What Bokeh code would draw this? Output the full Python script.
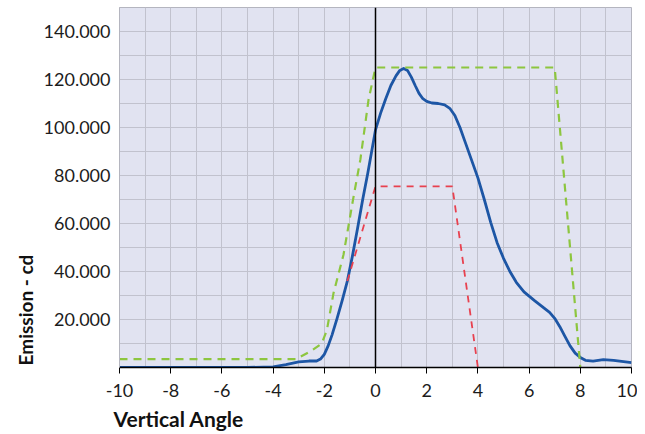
from bokeh.plotting import figure
from bokeh.models import Range1d, FixedTicker, Span, Title
from bokeh.embed import file_html
from bokeh.resources import INLINE

# ---- data ----
blue_x = [-10, -5, -4, -3.5, -3, -2.6, -2.3, -2.15, -2.0, -1.85, -1.7, -1.5, -1.3, -1.1, -0.9, -0.7,
          -0.5, -0.3, -0.15, 0, 0.2, 0.4, 0.6, 0.8, 0.95, 1.1, 1.25, 1.4, 1.55, 1.7, 1.85, 2.0, 2.2,
          2.45, 2.7, 2.9, 3.1, 3.3, 3.5, 3.75, 4.0, 4.25, 4.5, 4.75, 5.0, 5.25, 5.5, 5.8, 6.2, 6.5,
          6.8, 7.0, 7.2, 7.4, 7.6, 7.8, 8.0, 8.2, 8.5, 8.9, 9.3, 10]
blue_y = [0, 0, 300, 1200, 2300, 2700, 2700, 3500, 5500, 9000, 13500, 20500, 28000, 36000, 46500, 58000,
          70000, 81000, 90000, 99000, 106000, 112000, 117500, 121500, 123800, 124600, 123800, 121000,
          117500, 114200, 112000, 110900, 110200, 110000, 109400, 108000, 105000, 100000, 94000, 86500,
          79000, 70000, 60500, 52000, 45500, 40000, 35500, 31500, 28000, 25500, 23000, 20500, 17000,
          13000, 9000, 6000, 4200, 3000, 2700, 3300, 3000, 2000]

green_x = [-10, -3.1, -2.5, -2.1, -1.9, -1.64, -1.25, -0.86, -0.59, -0.27, 0, 7, 8]
green_y = [3500, 3500, 7000, 10000, 15500, 31000, 47000, 71000, 86700, 111700, 125000, 125000, 0]

red_x = [-1.1, 0, 3, 4]
red_y = [36000, 75500, 75500, 0]

x_ticks = [-10, -8, -6, -4, -2, 0, 2, 4, 6, 8, 10]
x_tick_labels = ["-10", "-8", "-6", "-4", "-2", "0", "2", "4", "6", "8", "10"]
y_ticks = [20000, 40000, 60000, 80000, 100000, 120000, 140000]
y_tick_labels = ["20.000", "40.000", "60.000", "80.000", "100.000", "120.000", "140.000"]
x_grid = list(range(-10, 11))
y_grid = list(range(0, 150001, 10000))

FONT = "Lato"

p = figure(width=637, height=434, output_backend="svg", toolbar_location=None,
           x_range=Range1d(-10, 10), y_range=Range1d(0, 150000),
           min_border_left=119, min_border_right=6, min_border_top=7, min_border_bottom=67)

p.background_fill_color = "#e1e3f1"
p.border_fill_color = "white"
p.outline_line_color = "#b4b5bf"
p.outline_line_width = 1

p.xgrid.ticker = FixedTicker(ticks=x_grid)
p.ygrid.ticker = FixedTicker(ticks=y_grid)
for g in (p.xgrid, p.ygrid):
    g.grid_line_color = "#c1c2ce"
    g.grid_line_width = 1

p.xaxis.ticker = FixedTicker(ticks=x_ticks)
p.yaxis.ticker = FixedTicker(ticks=y_ticks)
p.xaxis.major_label_overrides = {t: l for t, l in zip(x_ticks, x_tick_labels)}
p.yaxis.major_label_overrides = {t: l for t, l in zip(y_ticks, y_tick_labels)}

for ax in (p.xaxis, p.yaxis):
    ax.major_label_text_font = FONT
    ax.major_label_text_font_size = "18px"
    ax.major_label_text_color = "#1c1c1c"
    ax.minor_tick_line_color = None

p.xaxis.axis_line_color = "black"
p.xaxis.axis_line_width = 1.5
p.xaxis.major_tick_line_color = "black"
p.xaxis.major_tick_out = 6
p.xaxis.major_tick_in = 0
p.xaxis.major_label_standoff = 10

p.yaxis.axis_line_color = "#b4b5bf"
p.yaxis.major_tick_line_color = None
p.yaxis.major_label_standoff = 3

p.add_layout(Span(location=0, dimension="height", line_color="black", line_width=1.5))

p.line(blue_x, blue_y, line_color="#1d56a5", line_width=2.8, line_join="round")
p.line(green_x, green_y, line_color="#8dc63f", line_width=2.2, line_dash="8 6")
p.line(red_x, red_y, line_color="#e8414f", line_width=1.8, line_dash="7 6")

p.add_layout(Title(text="Vertical Angle", align="left", offset=-6, standoff=8,
                   text_font=FONT, text_font_size="21px", text_font_style="bold",
                   text_color="#111111"), "below")
p.add_layout(Title(text="Emission - cd", align="left", offset=2, standoff=8,
                   text_font=FONT, text_font_size="19px", text_font_style="bold",
                   text_color="#111111"), "left")

open("out.html", "w").write(file_html(p, INLINE))
